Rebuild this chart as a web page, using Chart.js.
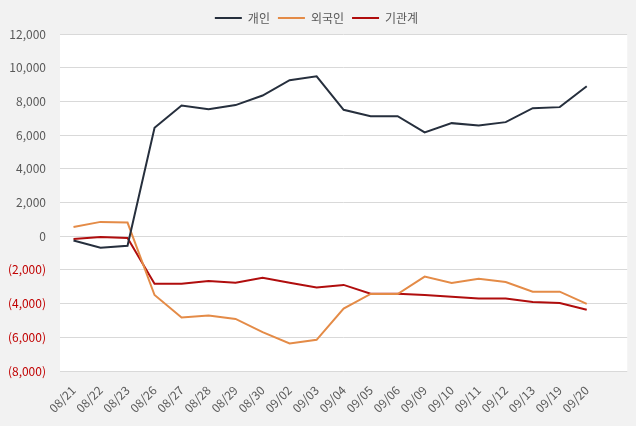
<!DOCTYPE html>
<html>
<head>
<meta charset="utf-8">
<script src="https://cdn.jsdelivr.net/npm/chart.js@4"></script>
<style>
  html, body { margin: 0; padding: 0; background: #f2f2f2; }
  #wrap { width: 636px; height: 426px; }
</style>
</head>
<body>
<div id="wrap"><canvas id="chart" width="636" height="426"></canvas></div>
<script>
// dates on the x axis
const dates = ['08/21', '08/22', '08/23', '08/26', '08/27', '08/28', '08/29', '08/30',
  '09/02', '09/03', '09/04', '09/05', '09/06', '09/09', '09/10', '09/11', '09/12',
  '09/13', '09/19', '09/20'];

// net buying by investor group
const individual = [-250, -690, -570, 6430, 7760, 7540, 7780, 8350, 9260, 9490, 7500,
  7120, 7120, 6160, 6710, 6570, 6770, 7600, 7660, 8900];
const foreign = [540, 850, 810, -3490, -4830, -4710, -4910, -5690, -6370, -6150, -4300,
  -3430, -3430, -2400, -2780, -2520, -2720, -3290, -3290, -4020];
const institution = [-170, -50, -110, -2820, -2820, -2660, -2760, -2460, -2760, -3050, -2890,
  -3410, -3410, -3490, -3600, -3700, -3700, -3900, -3960, -4370];

const seriesNames = ['개인', '외국인', '기관계'];
const seriesColors = ['#262f3d', '#e48b47', '#b00d0d'];

const fontFamily = "'Noto Sans CJK KR', 'Noto Sans', sans-serif";

// white plot area on grey page
const plotBg = {
  id: 'plotBg',
  beforeDraw(chart) {
    const a = chart.chartArea;
    const ctx = chart.ctx;
    ctx.save();
    ctx.fillStyle = '#ffffff';
    ctx.fillRect(a.left, a.top, a.right - a.left, a.bottom - a.top);
    ctx.restore();
  }
};

function fmt(v) {
  const s = Math.abs(v).toLocaleString('en-US');
  return v < 0 ? '(' + s + ')' : s;
}

// extra empty slot on the right, like the original
const labels = dates.concat(['']);

new Chart(document.getElementById('chart'), {
  type: 'line',
  data: {
    labels: labels,
    datasets: [individual, foreign, institution].map((d, i) => ({
      label: seriesNames[i],
      data: d,
      borderColor: seriesColors[i],
      backgroundColor: seriesColors[i],
      borderWidth: 2,
      pointRadius: 0,
      tension: 0
    }))
  },
  options: {
    responsive: false,
    animation: false,
    layout: { padding: { left: 0, right: 3, top: 4, bottom: 0 } },
    plugins: {
      legend: {
        position: 'top',
        labels: {
          boxWidth: 27,
          boxHeight: 2,
          color: '#595959',
          padding: 8,
          font: { family: fontFamily, size: 12 },
          generateLabels(chart) {
            const items = Chart.defaults.plugins.legend.labels.generateLabels(chart);
            items.forEach(it => { it.lineWidth = 0; });
            return items;
          }
        }
      },
      tooltip: { enabled: false }
    },
    scales: {
      x: {
        offset: true,
        grid: { display: false, drawTicks: false, offset: true },
        border: { display: false },
        ticks: {
          color: '#595959',
          minRotation: 45,
          maxRotation: 45,
          autoSkip: false,
          padding: 12,
          font: { family: fontFamily, size: 12 }
        },
        afterFit(scale) { scale.height = 55; }
      },
      y: {
        min: -8000,
        max: 12000,
        grid: { color: '#d9d9d9', drawTicks: false },
        border: { display: false },
        ticks: {
          stepSize: 2000,
          padding: 14,
          color: ctx => ctx.tick.value < 0 ? '#c00000' : '#595959',
          font: { family: fontFamily, size: 12 },
          callback: v => fmt(v)
        },
        afterFit(scale) { scale.width = 60; }
      }
    }
  },
  plugins: [plotBg]
});
</script>
</body>
</html>
